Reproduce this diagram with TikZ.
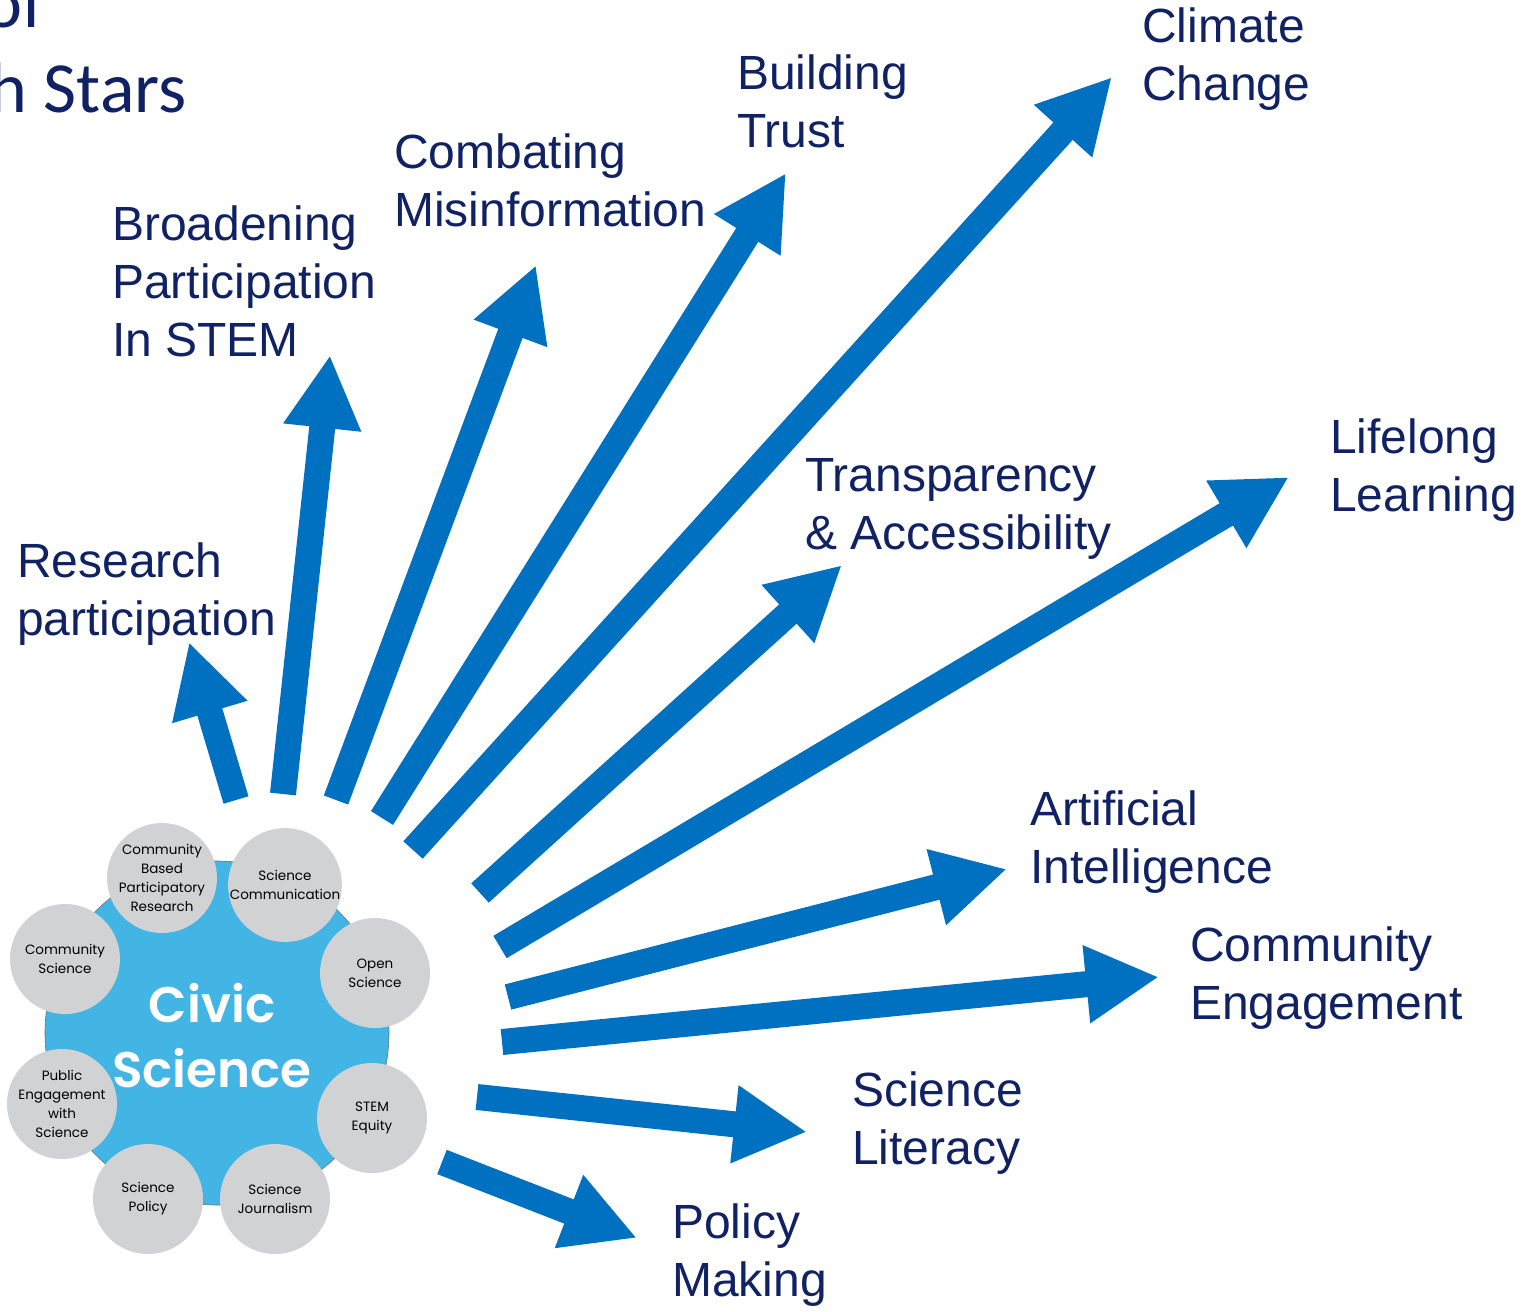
\documentclass[tikz,border=0pt]{standalone}
\usepackage{fontspec}
\setmainfont{Liberation Sans}
\newfontfamily\civicfont{Poppins}[BoldFont={* SemiBold}]
\newfontfamily\titlefont{Carlito}
\usetikzlibrary{arrows.meta}

\definecolor{arrowblue}{RGB}{0,112,192}
\definecolor{navy}{RGB}{16,34,100}
\definecolor{civicblue}{RGB}{66,181,228}
\definecolor{topicgray}{RGB}{209,210,212}

\begin{document}
\begin{tikzpicture}[x=1pt,y=-1pt]
        \tikzstyle{topic}=[circle,fill=topicgray,minimum size=110pt,inner sep=0pt,align=center,text=black,font=\civicfont\fontsize{13.5}{19}\selectfont]
        \tikzstyle{goal}=[anchor=north west,inner sep=0pt,align=left,text=navy,font=\fontsize{48}{58}\selectfont]
        \tikzstyle{title}=[inner sep=0pt,text=navy,font=\titlefont\fontsize{72}{80}\selectfont]
        \tikzstyle{big arrow}=[draw=arrowblue,line width=26pt,-{Triangle[length=73pt,width=73pt]}]
        \useasboundingbox (0,0) rectangle (1524,1312);
        % title, cut by the frame
        \node[title,anchor=base west] (of) at (-16,27) {of};
        \node[title,anchor=base east] (stars) at (187,112) {h Stars};
        % the hub
        \node[circle,fill=civicblue,draw=black!55,line width=0.6pt,minimum size=344pt,inner sep=0pt] (civic) at (217,1033) {};
        \node[text=white,align=center,inner sep=0pt,font=\civicfont\bfseries\fontsize{50}{65}\selectfont] (civic-text) at (212,1036) {Civic\\Science};
        \foreach \name/\x/\y/\txt in {cbpr/162/878/{Community\\Based\\Participatory\\Research},
                                    comm/285/885/{Science\\Communication},
                                    open/375/973/{Open\\Science},
                                    equity/372/1118/{STEM\\Equity},
                                    journ/275/1199/{Science\\Journalism},
                                    policy/148/1199/{Science\\Policy},
                                    public/62/1104/{Public\\Engagement\\with\\Science},
                                    commsci/65/959/{Community\\Science}}
            \node[topic] (T-\name) at (\x,\y) {\txt};
        % goals
        \node[goal] (climate) at (1142,8) {Climate\\Change};
        \node[goal] (trust) at (737,55) {Building\\Trust};
        \node[goal] (misinfo) at (394,134) {Combating\\Misinformation};
        \node[goal] (broaden) at (112,206) {Broadening\\Participation\\In STEM};
        \node[goal] (research) at (17,543) {Research\\participation};
        \node[goal] (transp) at (805,458) {Transparency\\\& Accessibility};
        \node[goal] (lifelong) at (1330,419) {Lifelong\\Learning};
        \node[goal] (ai) at (1030,791) {Artificial\\Intelligence};
        \node[goal] (engage) at (1190,927) {Community\\Engagement};
        \node[goal] (literacy) at (852,1072) {Science\\Literacy};
        \node[goal] (policymaking) at (672,1204) {Policy\\Making};
        % arrow ends
        \coordinate (research-s) at (236,800);   \coordinate (research-e) at (189,642);
        \coordinate (broaden-s) at (283,794);    \coordinate (broaden-e) at (330,355);
        \coordinate (misinfo-s) at (336,800);    \coordinate (misinfo-e) at (536,265);
        \coordinate (trust-s) at (382,818);      \coordinate (trust-e) at (786,173);
        \coordinate (climate-s) at (413,850);    \coordinate (climate-e) at (1112,77);
        \coordinate (transp-s) at (480,893);     \coordinate (transp-e) at (842,565);
        \coordinate (lifelong-s) at (500,947);   \coordinate (lifelong-e) at (1289,477);
        \coordinate (ai-s) at (508,997);         \coordinate (ai-e) at (1007,869);
        \coordinate (engage-s) at (502,1042);    \coordinate (engage-e) at (1159,977);
        \coordinate (literacy-s) at (477,1097);  \coordinate (literacy-e) at (807,1132);
        \coordinate (policymaking-s) at (442,1162); \coordinate (policymaking-e) at (637,1238);
        \foreach \name in {research,broaden,misinfo,trust,climate,transp,lifelong,ai,engage,literacy,policymaking}
            \draw[big arrow] (\name-s) -- (\name-e);
\end{tikzpicture}
\end{document}
